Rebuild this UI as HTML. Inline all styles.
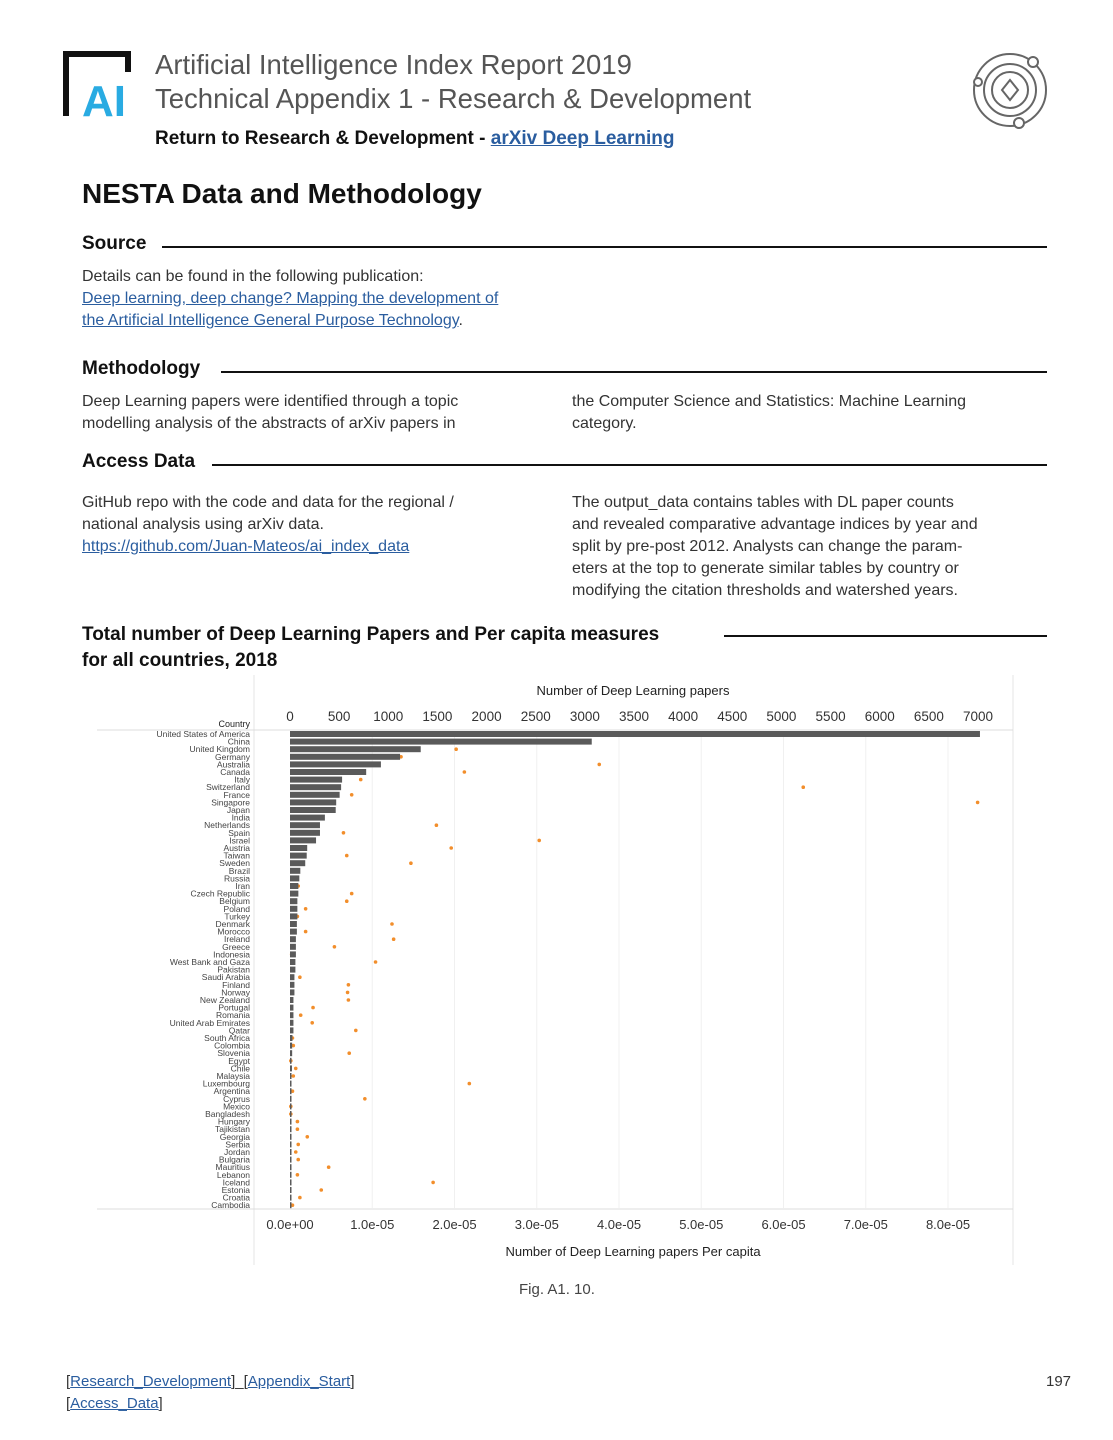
<!DOCTYPE html>
<html><head><meta charset="utf-8">
<style>
body{margin:0;background:#fff;font-family:"Liberation Sans",sans-serif;color:#222;}
#page{position:relative;width:1113px;height:1440px;overflow:hidden;}
.a{position:absolute;white-space:nowrap;}
.h2{font-weight:bold;font-size:19px;color:#111;}
.p{font-size:16px;line-height:22px;color:#333;}
a{color:#2a5d9f;}
.rule{position:absolute;height:2px;background:#111;}
</style></head><body>
<div id="page">
<svg class="a" style="left:62px;top:50px" width="80" height="70">
<path d="M4 66 V4 H66 V22" fill="none" stroke="#111" stroke-width="6"/>
<text x="20" y="66" font-family="Liberation Sans" font-weight="bold" font-size="44" fill="#29abe2">AI</text>
</svg>
<div class="a" style="left:155px;top:49px;font-size:27.5px;color:#555">Artificial Intelligence Index Report 2019</div>
<div class="a" style="left:155px;top:83px;font-size:27.5px;color:#555">Technical Appendix 1 - Research &amp; Development</div>
<div class="a" style="left:155px;top:128px;font-size:19px;font-weight:bold;color:#111">Return to Research &amp; Development - <a href="#">arXiv Deep Learning</a></div>
<svg class="a" style="left:968px;top:50px" width="84" height="84" fill="none" stroke="#666" stroke-width="2">
<circle cx="42" cy="40" r="36"/><circle cx="42" cy="40" r="26"/><circle cx="42" cy="40" r="18"/>
<path d="M42 30 L50 40 L42 50 L34 40Z"/><circle cx="65" cy="12" r="5" fill="#fff"/><circle cx="51" cy="73" r="5" fill="#fff"/><circle cx="10" cy="32" r="4" fill="#fff"/>
</svg>
<div class="a" style="left:82px;top:178px;font-size:28px;font-weight:bold;color:#111">NESTA Data and Methodology</div>

<div class="a h2" style="left:82px;top:233px">Source</div>
<div class="rule" style="left:162px;top:246px;width:885px"></div>
<div class="a p" style="left:82px;top:266px">Details can be found in the following publication:<br><a href="#">Deep learning, deep change? Mapping the development of<br>the Artificial Intelligence General Purpose Technology</a>.</div>

<div class="a h2" style="left:82px;top:358px">Methodology</div>
<div class="rule" style="left:221px;top:371px;width:826px"></div>
<div class="a p" style="left:82px;top:391px">Deep Learning papers were identified through a topic<br>modelling analysis of the abstracts of arXiv papers in</div>
<div class="a p" style="left:572px;top:391px">the Computer Science and Statistics: Machine Learning<br>category.</div>

<div class="a h2" style="left:82px;top:451px">Access Data</div>
<div class="rule" style="left:212px;top:464px;width:835px"></div>
<div class="a p" style="left:82px;top:492px">GitHub repo with the code and data for the regional /<br>national analysis using arXiv data.<br><a href="#">https://github.com/Juan-Mateos/ai_index_data</a></div>
<div class="a p" style="left:572px;top:492px">The output_data contains tables with DL paper counts<br>and revealed comparative advantage indices by year and<br>split by pre-post 2012. Analysts can change the param-<br>eters at the top to generate similar tables by country or<br>modifying the citation thresholds and watershed years.</div>

<div class="a h2" style="left:82px;top:622px;line-height:26px">Total number of Deep Learning Papers and Per capita measures<br>for all countries, 2018</div>
<div class="rule" style="left:724px;top:635px;width:323px"></div>

<svg id="chart" class="a" style="left:0;top:0" width="1113" height="1440" font-family="Liberation Sans, sans-serif"></svg>

<div class="a" style="left:519px;top:1281px;font-size:15px;color:#444">Fig. A1. 10.</div>
<div class="a p" style="left:66px;top:1371px;font-size:15px">[<a href="#">Research_Development</a>]_[<a href="#">Appendix_Start</a>]<br>[<a href="#">Access_Data</a>]</div>
<div class="a" style="left:1046px;top:1373px;font-size:15px;color:#333">197</div>
</div>
<script>
const countries=["United States of America","China","United Kingdom","Germany","Australia","Canada","Italy","Switzerland","France","Singapore","Japan","India","Netherlands","Spain","Israel","Austria","Taiwan","Sweden","Brazil","Russia","Iran","Czech Republic","Belgium","Poland","Turkey","Denmark","Morocco","Ireland","Greece","Indonesia","West Bank and Gaza","Pakistan","Saudi Arabia","Finland","Norway","New Zealand","Portugal","Romania","United Arab Emirates","Qatar","South Africa","Colombia","Slovenia","Egypt","Chile","Malaysia","Luxembourg","Argentina","Cyprus","Mexico","Bangladesh","Hungary","Tajikistan","Georgia","Serbia","Jordan","Bulgaria","Mauritius","Lebanon","Iceland","Estonia","Croatia","Cambodia"];
const papers=[7020,3070,1330,1120,925,775,530,520,505,470,465,355,305,305,265,175,170,155,105,95,85,85,75,75,75,70,70,60,60,60,55,55,45,45,45,35,35,35,35,35,25,22,22,15,20,12,10,10,10,8,8,10,10,10,10,10,10,10,10,10,10,10,10];
const perCapita=[2.1,0.22,2.02,1.35,3.76,2.12,0.86,6.24,0.75,8.36,0.37,0.03,1.78,0.65,3.03,1.96,0.69,1.47,0.05,0.07,0.1,0.75,0.69,0.19,0.09,1.24,0.19,1.26,0.54,0.02,1.04,0.03,0.12,0.71,0.70,0.71,0.28,0.13,0.27,0.8,0.03,0.04,0.72,0.01,0.07,0.04,2.18,0.03,0.91,0.01,0.01,0.09,0.09,0.21,0.1,0.07,0.1,0.47,0.09,1.74,0.38,0.12,0.03];
const topTicks=[0,500,1000,1500,2000,2500,3000,3500,4000,4500,5000,5500,6000,6500,7000];
const bottomTicks=[0,1,2,3,4,5,6,7,8];
const bottomLabels=["0.0e+00","1.0e-05","2.0e-05","3.0e-05","4.0e-05","5.0e-05","6.0e-05","7.0e-05","8.0e-05"];
const NS="http://www.w3.org/2000/svg";
const svg=document.getElementById('chart');
const xTop=v=>290+v*688/7000;
const xBot=v=>290+v*82.25;
const yRow=i=>734+i*7.6;
function mk(t,a,p){const e=document.createElementNS(NS,t);for(const k in a)e.setAttribute(k,a[k]);(p||svg).appendChild(e);return e;}
mk('line',{x1:254,y1:675,x2:254,y2:1265,stroke:'#e4e4e4'});
mk('line',{x1:1013,y1:675,x2:1013,y2:1265,stroke:'#e4e4e4'});
mk('line',{x1:97,y1:730,x2:1013,y2:730,stroke:'#ddd'});
mk('line',{x1:97,y1:1209,x2:1013,y2:1209,stroke:'#ddd'});
bottomTicks.forEach((t,i)=>{
 if(t>0){const g=mk('line',{x1:xBot(t),y1:731,x2:xBot(t),y2:1208,stroke:'#f0f0f0'});
 
 }
 const tx=mk('text',{x:xBot(t),y:1229,'font-size':13,fill:'#333','text-anchor':'middle'});
 tx.textContent=bottomLabels[i];
 
 
});
topTicks.forEach(t=>{
 const tx=mk('text',{x:xTop(t),y:721,'font-size':13.5,fill:'#333','text-anchor':'middle'});
 tx.textContent=t;
 
 
});
let e=mk('text',{x:633,y:695,'font-size':13,fill:'#222','text-anchor':'middle'});e.textContent='Number of Deep Learning papers';


e=mk('text',{x:633,y:1256,'font-size':13,fill:'#222','text-anchor':'middle'});e.textContent='Number of Deep Learning papers Per capita';


e=mk('text',{x:250,y:727,'font-size':9,fill:'#222','text-anchor':'end'});e.textContent='Country';


countries.forEach((c,i)=>{
 const d=mk('circle',{cx:xBot(perCapita[i]),cy:yRow(i),r:1.8,fill:'#f28e2b'});
 
 
});
countries.forEach((c,i)=>{
 const y=yRow(i);
 const l=mk('text',{x:250,y:y+3,'font-size':8.5,fill:'#444','text-anchor':'end'});
 l.textContent=c;
 
 
 const w=Math.max(1.5,xTop(papers[i])-xTop(0));
 const b=mk('rect',{x:xTop(0),y:y-3,width:w,height:6,fill:'#5a5a5a'});
 
 
});
</script>
</body></html>
